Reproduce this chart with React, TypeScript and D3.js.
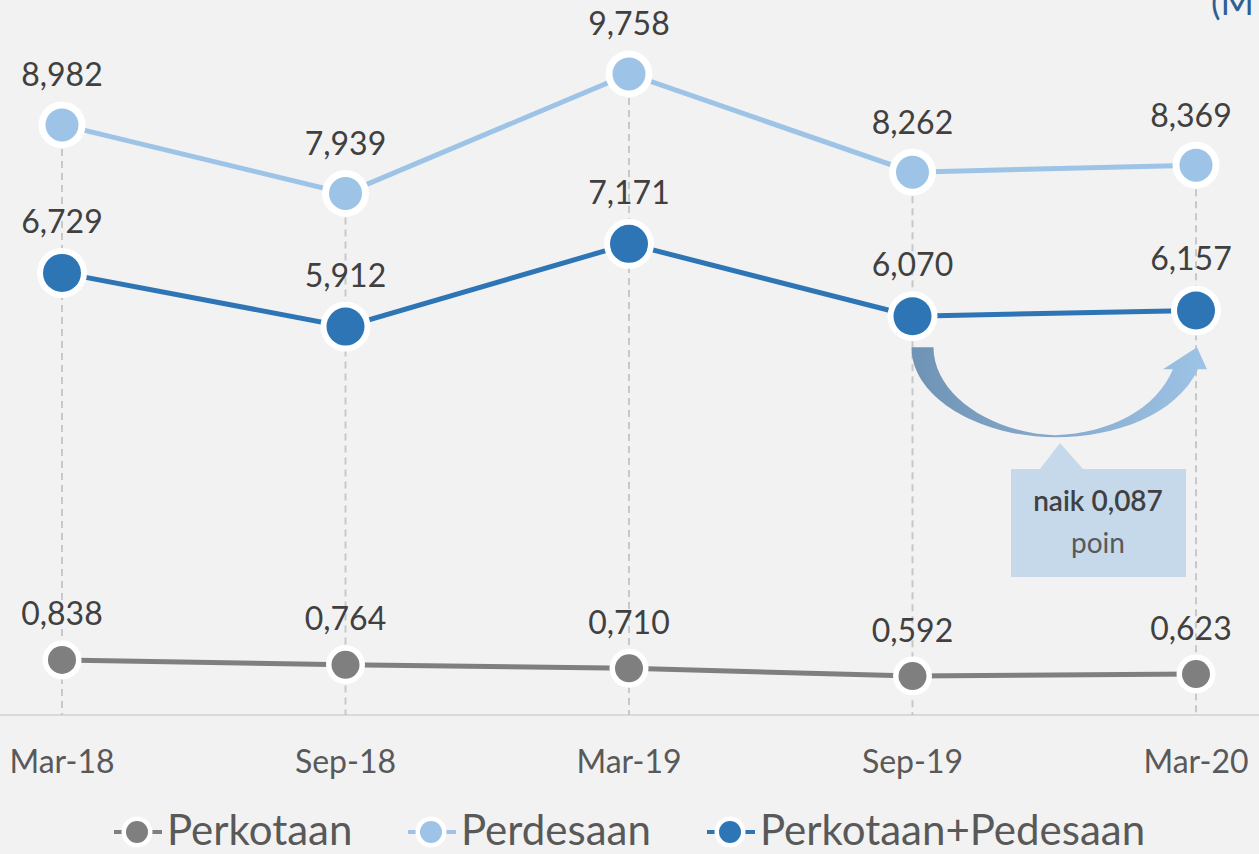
import React from "react";
import * as d3 from "d3";

const categories = ["Mar-18", "Sep-18", "Mar-19", "Sep-19", "Mar-20"];
const perkotaan = [0.838, 0.764, 0.71, 0.592, 0.623];
const perdesaan = [8.982, 7.939, 9.758, 8.262, 8.369];
const gabungan = [6.729, 5.912, 7.171, 6.07, 6.157];
const seriesNames = ["Perkotaan", "Perdesaan", "Perkotaan+Pedesaan"];
const calloutLines = ["naik 0,087", "poin"];

const W = 1259;
const H = 854;
const FONT = "Lato, 'Noto Sans', sans-serif";

const fmt = (v: number) => v.toFixed(3).replace(".", ",");

export default function App() {
  const x = d3.scalePoint<string>().domain(categories).range([62, 1196]);
  const y = d3.scaleLinear().domain([0, 10]).range([715, 715 - 657]);

  const series = [
    { name: seriesNames[0], data: perkotaan, color: "#7f7f7f", r: 14, ring: 5.5, lw: 5 },
    { name: seriesNames[1], data: perdesaan, color: "#9dc3e6", r: 16.5, ring: 7, lw: 5 },
    { name: seriesNames[2], data: gabungan, color: "#2e75b6", r: 19, ring: 6, lw: 5 },
  ];

  const line = d3
    .line<number>()
    .x((_, i) => x(categories[i]) as number)
    .y((d) => y(d));

  const tops = categories.map((_, i) => Math.max(perkotaan[i], perdesaan[i], gabungan[i]));

  // curved arrow between Sep-19 and Mar-20 (Perkotaan+Pedesaan)
  const xa = x("Sep-19") as number;
  const xb = x("Mar-20") as number;
  const ya = y(gabungan[3]) + 31;
  const mid = (xa + xb) / 2 + 1;
  const bot = ya + 89;
  const arrowPath = [
    `M ${xa - 1},${ya}`,
    `L ${xa + 21},${ya}`,
    `C ${xa + 21},${ya + 48} ${xa + 80},${bot - 3} ${mid},${bot - 1}`,
    `C ${mid + 55},${bot - 3} ${xb - 40},${ya + 62} ${xb - 23},${ya + 22}`,
    `L ${xb - 33},${ya + 22}`,
    `L ${xb + 1},${ya}`,
    `L ${xb + 11},${ya + 22}`,
    `L ${xb + 2},${ya + 22}`,
    `C ${xb - 20},${ya + 68} ${mid + 60},${bot + 1} ${mid},${bot + 1}`,
    `C ${xa + 70},${bot + 1} ${xa - 1},${ya + 52} ${xa - 1},${ya}`,
    "Z",
  ].join(" ");

  const legendItems = [
    { name: seriesNames[0], color: "#7f7f7f", mx: 137 },
    { name: seriesNames[1], color: "#9dc3e6", mx: 431 },
    { name: seriesNames[2], color: "#2e75b6", mx: 730 },
  ];
  const ly = 832;

  return (
    <svg
      width={W}
      height={H}
      style={{ position: "absolute", left: 0, top: 0, background: "#f2f2f2" }}
      fontFamily={FONT}
    >
      <defs>
        <linearGradient id="arrowGrad" x1="0" x2="1" y1="0" y2="0">
          <stop offset="0" stopColor="#6f93b4" />
          <stop offset="1" stopColor="#9dc3e6" />
        </linearGradient>
      </defs>
      <rect width={W} height={H} fill="#f2f2f2" />

      {/* clipped title fragment */}
      <text x={1211} y={15} fontSize={36} fill="#2f5f93" fontFamily={FONT}>
        (M
      </text>

      {/* axis line */}
      <line x1={0} x2={W} y1={715} y2={715} stroke="#d9d9d9" strokeWidth={2} />

      {/* drop lines */}
      {categories.map((c, i) => (
        <line
          key={c}
          x1={x(c)}
          x2={x(c)}
          y1={y(tops[i])}
          y2={715}
          stroke="#c8c8c8"
          strokeWidth={2}
          strokeDasharray="7,5"
        />
      ))}

      {/* lines */}
      {series.map((s) => (
        <path key={s.name} d={line(s.data) || ""} fill="none" stroke={s.color} strokeWidth={s.lw} />
      ))}

      {/* markers */}
      {series.map((s) =>
        s.data.map((v, i) => (
          <g key={s.name + i}>
            <circle cx={x(categories[i])} cy={y(v)} r={s.r + s.ring} fill="#ffffff" />
            <circle cx={x(categories[i])} cy={y(v)} r={s.r} fill={s.color} />
          </g>
        ))
      )}

      {/* data labels */}
      {series.map((s) =>
        s.data.map((v, i) => (
          <text
            key={"l" + s.name + i}
            x={(x(categories[i]) as number) + (i === 4 ? -5 : 0)}
            y={y(v) - (s.r + s.ring + 15)}
            textAnchor="middle"
            fontSize={32}
            fill="#404040"
          >
            {fmt(v)}
          </text>
        ))
      )}

      {/* x axis labels */}
      {categories.map((c) => (
        <text key={"x" + c} x={x(c)} y={773} textAnchor="middle" fontSize={32} fill="#595959">
          {c}
        </text>
      ))}

      {/* curved arrow */}
      <path d={arrowPath} fill="url(#arrowGrad)" />

      {/* callout */}
      <path
        d={`M 1011,469 L 1040,469 L 1060,443 L 1083,469 L 1186,469 L 1186,577 L 1011,577 Z`}
        fill="#c5d9eb"
      />
      <text x={1098} y={511} textAnchor="middle" fontSize={28} fontWeight={600} fill="#404040">
        {calloutLines[0]}
      </text>
      <text x={1098} y={553} textAnchor="middle" fontSize={28} fill="#595959">
        {calloutLines[1]}
      </text>

      {/* legend */}
      {legendItems.map((l) => (
        <g key={"lg" + l.name}>
          <line x1={l.mx - 23} x2={l.mx - 15} y1={ly} y2={ly} stroke={l.color} strokeWidth={4} />
          <line x1={l.mx + 15} x2={l.mx + 25} y1={ly} y2={ly} stroke={l.color} strokeWidth={4} />
          <circle cx={l.mx} cy={ly} r={15.5} fill="#ffffff" />
          <circle cx={l.mx} cy={ly} r={11} fill={l.color} />
          <text x={l.mx + 30} y={845} fontSize={42} fill="#595959">
            {l.name}
          </text>
        </g>
      ))}
    </svg>
  );
}
